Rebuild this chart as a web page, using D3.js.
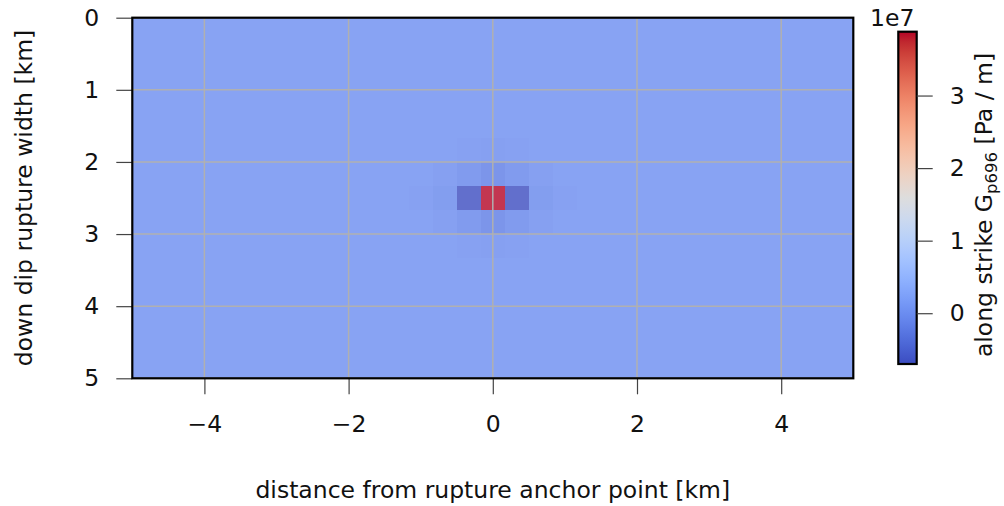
<!DOCTYPE html>
<html>
<head>
<meta charset="utf-8">
<script src="https://cdn.jsdelivr.net/npm/d3@7"></script>
<style>
  html, body { margin: 0; padding: 0; background: #fff; }
  svg { display: block; font-family: "DejaVu Sans", sans-serif; }
</style>
</head>
<body>
<svg id="chart" width="1004" height="506"></svg>
<script>
// Mesh geometry: patch centres along strike (km) and down dip (km), 1/3 km patches
const PATCH_SIZE = 1 / 3;
const stripCentresX = d3.range(-15, 16).map(k => k * PATCH_SIZE);      // 31 columns
const dipCentresY = d3.range(0, 15).map(i => (i + 0.5) * PATCH_SIZE);   // 15 rows

// Stress kernel values [Pa / m]; patches outside the central block are zero
const backgroundValue = 0;
const kernelFirstRow = 5;      // row index of the first kernel row
const kernelFirstCol = 12;     // column index of the first kernel column (x = -1 km)
const kernelRow5 = [0, 0, -0.03e7, -0.04e7, -0.03e7, 0, 0];
const kernelRow6 = [0, -0.04e7, -0.13e7, -0.20e7, -0.13e7, -0.04e7, 0];
const kernelRow7 = [-0.03e7, -0.08e7, -0.70e7, 3.88e7, -0.70e7, -0.08e7, -0.03e7];
const kernelRow8 = [0, -0.04e7, -0.13e7, -0.20e7, -0.13e7, -0.04e7, 0];
const kernelRow9 = [0, 0, -0.03e7, -0.04e7, -0.03e7, 0, 0];
const kernelRows = [kernelRow5, kernelRow6, kernelRow7, kernelRow8, kernelRow9];

// Axis ticks
const xTicks = [-4, -2, 0, 2, 4];
const yTicks = [0, 1, 2, 3, 4, 5];
const colorbarTicks = [0, 1e7, 2e7, 3e7];

// Matplotlib "coolwarm" colour stops
const coolwarm = [
  [59,76,192],[68,90,204],[77,104,215],[87,117,225],[98,130,234],[108,142,241],
  [119,154,247],[130,165,251],[141,176,254],[152,185,255],[163,194,255],[174,201,253],
  [184,208,249],[194,213,244],[204,217,238],[213,219,230],[221,221,221],[229,216,209],
  [236,211,197],[241,204,184],[245,196,172],[247,187,159],[247,177,147],[247,166,134],
  [244,154,123],[241,141,111],[236,127,99],[229,112,89],[222,96,77],[213,80,68],
  [203,62,56],[192,40,47],[180,4,38]
].map(c => d3.rgb(c[0], c[1], c[2]).toString());

// Build the value grid
const cells = [];
dipCentresY.forEach((yc, i) => {
  stripCentresX.forEach((xc, j) => {
    let v = backgroundValue;
    const r = i - kernelFirstRow, c = j - kernelFirstCol;
    if (r >= 0 && r < kernelRows.length && c >= 0 && c < kernelRows[r].length) v = kernelRows[r][c];
    cells.push({ x: xc, y: yc, v });
  });
});
const [vmin, vmax] = d3.extent(cells, d => d.v);

const svg = d3.select("#chart");
const plot = { left: 132.3, right: 853.3, top: 17.7, bottom: 378.3 };
const cbar = { left: 898.3, right: 916.7, top: 31.7, bottom: 364 };
const FONT = 23.5;
const TEXT = "#111";

const x = d3.scaleLinear().domain([-5, 5]).range([plot.left, plot.right]);
const y = d3.scaleLinear().domain([0, 5]).range([plot.top, plot.bottom]);

const unitPos = d3.scaleLinear().domain(d3.range(coolwarm.length).map(i => i / (coolwarm.length - 1))).range(coolwarm).interpolate(d3.interpolateRgb);
const norm = d3.scaleLinear().domain([vmin, vmax]).range([0, 1]).clamp(true);
const color = v => unitPos(norm(v));

// Clip for the mesh
const defs = svg.append("defs");
defs.append("clipPath").attr("id", "plotClip")
  .append("rect")
  .attr("x", plot.left).attr("y", plot.top)
  .attr("width", plot.right - plot.left).attr("height", plot.bottom - plot.top);

// Mesh (semi-transparent as a whole, so neighbouring patches do not double up)
svg.append("g").attr("clip-path", "url(#plotClip)").attr("opacity", 0.8)
  .selectAll("rect").data(cells).join("rect")
  .attr("x", d => x(d.x - PATCH_SIZE / 2))
  .attr("y", d => y(d.y - PATCH_SIZE / 2))
  .attr("width", d => x(d.x + PATCH_SIZE / 2) - x(d.x - PATCH_SIZE / 2) + 0.5)
  .attr("height", d => y(d.y + PATCH_SIZE / 2) - y(d.y - PATCH_SIZE / 2) + 0.5)
  .attr("fill", d => color(d.v))
  .attr("shape-rendering", "crispEdges");

// Grid lines
const grid = svg.append("g").attr("stroke", "#b0b0b0").attr("stroke-width", 1.5);
grid.selectAll("line.gx").data(xTicks).join("line").attr("class", "gx")
  .attr("x1", d => x(d)).attr("x2", d => x(d)).attr("y1", plot.top).attr("y2", plot.bottom);
grid.selectAll("line.gy").data(yTicks).join("line").attr("class", "gy")
  .attr("x1", plot.left).attr("x2", plot.right).attr("y1", d => y(d)).attr("y2", d => y(d));

// Axes
const fmt = d => (d < 0 ? "\u2212" + Math.abs(d) : String(d));
const xAxis = svg.append("g").attr("transform", `translate(0,${plot.bottom})`)
  .call(d3.axisBottom(x).tickValues(xTicks).tickFormat(fmt).tickSize(16).tickPadding(21));
const yAxis = svg.append("g").attr("transform", `translate(${plot.left},0)`)
  .call(d3.axisLeft(y).tickValues(yTicks).tickFormat(fmt).tickSize(16).tickPadding(17));
[xAxis, yAxis].forEach(g => {
  g.select(".domain").remove();
  g.selectAll(".tick line").attr("stroke", "#444").attr("stroke-width", 1.2);
  g.selectAll(".tick text").attr("font-size", FONT).attr("fill", TEXT)
    .attr("font-family", "DejaVu Sans, sans-serif");
});

// Frame
svg.append("rect")
  .attr("x", plot.left).attr("y", plot.top)
  .attr("width", plot.right - plot.left).attr("height", plot.bottom - plot.top)
  .attr("fill", "none").attr("stroke", "#000").attr("stroke-width", 2.2);

// Axis titles
svg.append("text")
  .attr("x", (plot.left + plot.right) / 2).attr("y", 498)
  .attr("text-anchor", "middle").attr("font-size", FONT).attr("fill", TEXT)
  .text("distance from rupture anchor point [km]");
svg.append("text")
  .attr("transform", `translate(32,${(plot.top + plot.bottom) / 2}) rotate(-90)`)
  .attr("text-anchor", "middle").attr("font-size", FONT).attr("fill", TEXT)
  .text("down dip rupture width [km]");

// Colorbar
const cScale = d3.scaleLinear().domain([vmin, vmax]).range([cbar.bottom, cbar.top]);
const grad = defs.append("linearGradient")
  .attr("id", "cbarGrad").attr("x1", 0).attr("y1", 1).attr("x2", 0).attr("y2", 0);
grad.selectAll("stop").data(coolwarm).join("stop")
  .attr("offset", (d, i) => i / (coolwarm.length - 1))
  .attr("stop-color", d => d);
svg.append("rect")
  .attr("x", cbar.left).attr("y", cbar.top)
  .attr("width", cbar.right - cbar.left).attr("height", cbar.bottom - cbar.top)
  .attr("fill", "url(#cbarGrad)")
  .attr("stroke", "#000").attr("stroke-width", 2.2);

const cAxis = svg.append("g").attr("transform", `translate(${cbar.right},0)`)
  .call(d3.axisRight(cScale).tickValues(colorbarTicks).tickFormat(d => String(d / 1e7)).tickSize(16).tickPadding(17));
cAxis.select(".domain").remove();
cAxis.selectAll(".tick line").attr("stroke", "#444").attr("stroke-width", 1.2);
cAxis.selectAll(".tick text").attr("font-size", FONT).attr("fill", TEXT)
  .attr("font-family", "DejaVu Sans, sans-serif");

svg.append("text")
  .attr("x", 870).attr("y", 26)
  .attr("font-size", FONT).attr("fill", TEXT)
  .text("1e7");

const cLabel = svg.append("text")
  .attr("transform", `translate(992,205) rotate(-90)`)
  .attr("text-anchor", "middle").attr("font-size", FONT).attr("fill", TEXT);
cLabel.append("tspan").text("along strike G");
cLabel.append("tspan").attr("font-size", 16.5).attr("dy", 5).text("p696");
cLabel.append("tspan").attr("dy", -5).text(" [Pa / m]");
</script>
</body>
</html>
